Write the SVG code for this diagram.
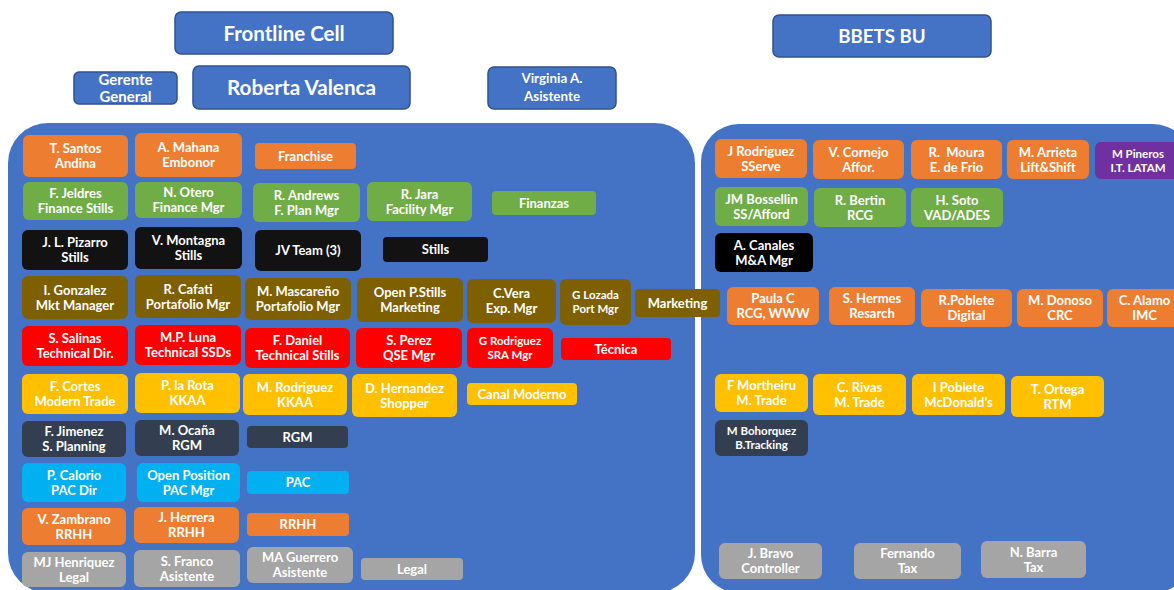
<svg xmlns="http://www.w3.org/2000/svg" width="1174" height="590" viewBox="0 0 1174 590">
  <style>
    text { font-family: Lato, "Open Sans", "Liberation Sans", sans-serif; font-weight: 700; fill: #ffffff; text-anchor: middle; }
    .n { font-size: 13px; }
    .s { font-size: 11.5px; }
    .head { fill: #4472C4; stroke: #2F528F; stroke-width: 1.5; }
    .panel { fill: #4472C4; }
    .orange { fill: #ED7D31; }
    .green { fill: #70AD47; }
    .black { fill: #121212; }
    .brown { fill: #7F6000; }
    .red { fill: #FF0000; }
    .yellow { fill: #FFC000; }
    .navy { fill: #333F50; }
    .cyan { fill: #00B0F0; }
    .gray { fill: #A5A5A5; }
    .purple { fill: #7030A0; }
  </style>

  <rect width="1174" height="590" fill="#ffffff"/>

  <!-- header boxes -->
  <g id="frontline-cell"><rect class="head" x="175" y="12" width="218" height="42" rx="6"/><text x="284" y="40.5" font-size="20.5">Frontline Cell</text></g>
  <g id="gerente-general"><rect class="head" x="74" y="72" width="103" height="32" rx="5"/><text x="125.5" y="84.5" font-size="15"><tspan x="125.5">Gerente</tspan><tspan x="125.5" y="102">General</tspan></text></g>
  <g id="roberta-valenca"><rect class="head" x="193" y="66" width="217" height="43" rx="6"/><text x="301.5" y="94.5" font-size="20.7">Roberta Valenca</text></g>
  <g id="virginia"><rect class="head" x="488" y="67" width="128" height="42" rx="6"/><text x="552" y="83" font-size="13.4"><tspan x="552">Virginia A.</tspan><tspan x="552" y="100.5">Asistente</tspan></text></g>
  <g id="bbets-bu"><rect class="head" x="773" y="15" width="218" height="42" rx="6"/><text x="882" y="43" font-size="18.7">BBETS BU</text></g>

  <!-- team panels -->
  <g id="frontline-panel"><rect class="panel" x="8" y="123" width="687" height="470" rx="40"/></g>
  <g id="bbets-panel"><rect class="panel" x="701" y="124" width="490" height="469" rx="38"/></g>

  <!-- Frontline Cell team -->
  <g id="santos"><rect class="orange" x="23" y="135" width="105" height="42" rx="6"/><text class="n" x="75.5" y="153"><tspan x="75.5">T. Santos</tspan><tspan x="75.5" y="168">Andina</tspan></text></g>
  <g id="mahana"><rect class="orange" x="135" y="133" width="107" height="44" rx="6"/><text class="n" x="188.5" y="152"><tspan x="188.5">A. Mahana</tspan><tspan x="188.5" y="167">Embonor</tspan></text></g>
  <g id="franchise"><rect class="orange" x="255" y="143" width="101" height="26" rx="4"/><text class="n" x="305.5" y="160.5">Franchise</text></g>

  <g id="jeldres"><rect class="green" x="23" y="182" width="105" height="38" rx="6"/><text class="n" x="75.5" y="198"><tspan x="75.5">F. Jeldres</tspan><tspan x="75.5" y="213">Finance Stills</tspan></text></g>
  <g id="otero"><rect class="green" x="135" y="182" width="107" height="36" rx="6"/><text class="n" x="188.5" y="197"><tspan x="188.5">N. Otero</tspan><tspan x="188.5" y="212">Finance Mgr</tspan></text></g>
  <g id="andrews"><rect class="green" x="253" y="183" width="107" height="39" rx="6"/><text class="n" x="306.5" y="199.5"><tspan x="306.5">R. Andrews</tspan><tspan x="306.5" y="214.5">F. Plan Mgr</tspan></text></g>
  <g id="jara"><rect class="green" x="367" y="182" width="105" height="39" rx="6"/><text class="n" x="419.5" y="198.5"><tspan x="419.5">R. Jara</tspan><tspan x="419.5" y="213.5">Facility Mgr</tspan></text></g>
  <g id="finanzas"><rect class="green" x="492" y="191" width="104" height="24" rx="4"/><text class="n" x="544" y="207.5">Finanzas</text></g>

  <g id="pizarro"><rect class="black" x="22" y="230" width="106" height="40" rx="6"/><text class="n" x="75" y="247"><tspan x="75">J. L. Pizarro</tspan><tspan x="75" y="262">Stills</tspan></text></g>
  <g id="montagna"><rect class="black" x="135" y="227" width="107" height="42" rx="6"/><text class="n" x="188.5" y="245"><tspan x="188.5">V. Montagna</tspan><tspan x="188.5" y="260">Stills</tspan></text></g>
  <g id="jv-team"><rect class="black" x="255" y="230" width="106" height="41" rx="6"/><text class="n" x="308" y="255">JV Team (3)</text></g>
  <g id="stills"><rect class="black" x="383" y="237" width="105" height="25" rx="4"/><text class="n" x="435.5" y="254">Stills</text></g>

  <g id="gonzalez"><rect class="brown" x="22" y="276" width="106" height="43" rx="6"/><text class="n" x="75" y="294.5"><tspan x="75">I. Gonzalez</tspan><tspan x="75" y="309.5">Mkt Manager</tspan></text></g>
  <g id="cafati"><rect class="brown" x="135" y="275" width="106" height="43" rx="6"/><text class="n" x="188" y="293.5"><tspan x="188">R. Cafati</tspan><tspan x="188" y="308.5">Portafolio Mgr</tspan></text></g>
  <g id="mascareno"><rect class="brown" x="245" y="278" width="106" height="42" rx="6"/><text class="n" x="298" y="296"><tspan x="298">M. Mascareño</tspan><tspan x="298" y="311">Portafolio Mgr</tspan></text></g>
  <g id="open-p-stills"><rect class="brown" x="357" y="278" width="106" height="44" rx="6"/><text class="n" x="410" y="297"><tspan x="410">Open P.Stills</tspan><tspan x="410" y="312">Marketing</tspan></text></g>
  <g id="vera"><rect class="brown" x="467" y="279" width="89" height="44" rx="6"/><text class="n" x="511.5" y="298"><tspan x="511.5">C.Vera</tspan><tspan x="511.5" y="313">Exp. Mgr</tspan></text></g>
  <g id="lozada"><rect class="brown" x="560" y="279" width="71" height="46" rx="6"/><text class="s" x="595.5" y="299"><tspan x="595.5">G Lozada</tspan><tspan x="595.5" y="313">Port Mgr</tspan></text></g>
  <g id="marketing"><rect class="brown" x="635" y="289" width="85" height="28" rx="4"/><text class="n" x="677.5" y="307.5">Marketing</text></g>

  <g id="salinas"><rect class="red" x="22" y="326" width="106" height="40" rx="6"/><text class="n" x="75" y="343"><tspan x="75">S. Salinas</tspan><tspan x="75" y="358">Technical Dir.</tspan></text></g>
  <g id="luna"><rect class="red" x="135" y="325" width="106" height="40" rx="6"/><text class="n" x="188" y="342"><tspan x="188">M.P. Luna</tspan><tspan x="188" y="357">Technical SSDs</tspan></text></g>
  <g id="daniel"><rect class="red" x="245" y="328" width="105" height="40" rx="6"/><text class="n" x="297.5" y="345"><tspan x="297.5">F. Daniel</tspan><tspan x="297.5" y="360">Technical Stills</tspan></text></g>
  <g id="perez"><rect class="red" x="356" y="328" width="106" height="40" rx="6"/><text class="n" x="409" y="345"><tspan x="409">S. Perez</tspan><tspan x="409" y="360">QSE Mgr</tspan></text></g>
  <g id="g-rodriguez"><rect class="red" x="467" y="328" width="86" height="40" rx="6"/><text class="s" x="510" y="345"><tspan x="510">G Rodriguez</tspan><tspan x="510" y="359">SRA Mgr</tspan></text></g>
  <g id="tecnica"><rect class="red" x="561" y="338" width="110" height="22" rx="4"/><text class="n" x="616" y="353.5">Técnica</text></g>

  <g id="cortes"><rect class="yellow" x="22" y="374" width="106" height="40" rx="6"/><text class="n" x="75" y="391"><tspan x="75">F. Cortes</tspan><tspan x="75" y="406">Modern Trade</tspan></text></g>
  <g id="la-rota"><rect class="yellow" x="135" y="373" width="105" height="40" rx="6"/><text class="n" x="187.5" y="390"><tspan x="187.5">P. la Rota</tspan><tspan x="187.5" y="405">KKAA</tspan></text></g>
  <g id="m-rodriguez"><rect class="yellow" x="243" y="374" width="104" height="41" rx="6"/><text class="n" x="295" y="391.5"><tspan x="295">M. Rodriguez</tspan><tspan x="295" y="406.5">KKAA</tspan></text></g>
  <g id="hernandez"><rect class="yellow" x="352" y="374" width="105" height="43" rx="6"/><text class="n" x="404.5" y="392.5"><tspan x="404.5">D. Hernandez</tspan><tspan x="404.5" y="407.5">Shopper</tspan></text></g>
  <g id="canal-moderno"><rect class="yellow" x="467" y="383" width="110" height="22" rx="4"/><text class="n" x="522" y="398.5">Canal Moderno</text></g>

  <g id="jimenez"><rect class="navy" x="22" y="421" width="104" height="36" rx="6"/><text class="n" x="74" y="436"><tspan x="74">F. Jimenez</tspan><tspan x="74" y="451">S. Planning</tspan></text></g>
  <g id="ocana"><rect class="navy" x="135" y="420" width="104" height="36" rx="6"/><text class="n" x="187" y="435"><tspan x="187">M. Ocaña</tspan><tspan x="187" y="450">RGM</tspan></text></g>
  <g id="rgm"><rect class="navy" x="247" y="426" width="101" height="22" rx="4"/><text class="n" x="297.5" y="441.5">RGM</text></g>

  <g id="calorio"><rect class="cyan" x="22" y="463" width="104" height="39" rx="6"/><text class="n" x="74" y="479.5"><tspan x="74">P. Calorio</tspan><tspan x="74" y="494.5">PAC Dir</tspan></text></g>
  <g id="open-position"><rect class="cyan" x="137" y="463" width="103" height="39" rx="6"/><text class="n" x="188.5" y="479.5"><tspan x="188.5">Open Position</tspan><tspan x="188.5" y="494.5">PAC Mgr</tspan></text></g>
  <g id="pac"><rect class="cyan" x="247" y="471" width="102" height="23" rx="4"/><text class="n" x="298" y="487">PAC</text></g>

  <g id="zambrano"><rect class="orange" x="22" y="508" width="104" height="37" rx="6"/><text class="n" x="74" y="523.5"><tspan x="74">V. Zambrano</tspan><tspan x="74" y="538.5">RRHH</tspan></text></g>
  <g id="herrera"><rect class="orange" x="134" y="507" width="105" height="36" rx="6"/><text class="n" x="186.5" y="522"><tspan x="186.5">J. Herrera</tspan><tspan x="186.5" y="537">RRHH</tspan></text></g>
  <g id="rrhh"><rect class="orange" x="247" y="513" width="102" height="23" rx="4"/><text class="n" x="298" y="529">RRHH</text></g>

  <g id="henriquez"><rect class="gray" x="22" y="552" width="104" height="35" rx="6"/><text class="n" x="74" y="566.5"><tspan x="74">MJ Henriquez</tspan><tspan x="74" y="581.5">Legal</tspan></text></g>
  <g id="franco"><rect class="gray" x="134" y="550" width="106" height="37" rx="6"/><text class="n" x="187" y="565.5"><tspan x="187">S. Franco</tspan><tspan x="187" y="580.5">Asistente</tspan></text></g>
  <g id="guerrero"><rect class="gray" x="247" y="547" width="106" height="36" rx="6"/><text class="n" x="300" y="562"><tspan x="300">MA Guerrero</tspan><tspan x="300" y="577">Asistente</tspan></text></g>
  <g id="legal"><rect class="gray" x="361" y="558" width="102" height="22" rx="4"/><text class="n" x="412" y="573.5">Legal</text></g>

  <!-- BBETS BU team -->
  <g id="j-rodriguez"><rect class="orange" x="715" y="139" width="92" height="39" rx="6"/><text class="n" x="761" y="155.5"><tspan x="761">J Rodriguez</tspan><tspan x="761" y="170.5">SServe</tspan></text></g>
  <g id="cornejo"><rect class="orange" x="813" y="140" width="91" height="39" rx="6"/><text class="n" x="858.5" y="156.5"><tspan x="858.5">V. Cornejo</tspan><tspan x="858.5" y="171.5">Affor.</tspan></text></g>
  <g id="moura"><rect class="orange" x="911" y="140" width="91" height="39" rx="6"/><text class="n" x="956.5" y="156.5" xml:space="preserve"><tspan x="956.5">R.  Moura</tspan><tspan x="956.5" y="171.5">E. de Frio</tspan></text></g>
  <g id="arrieta"><rect class="orange" x="1007" y="140" width="82" height="39" rx="6"/><text class="n" x="1048" y="156.5"><tspan x="1048">M. Arrieta</tspan><tspan x="1048" y="171.5">Lift&amp;Shift</tspan></text></g>
  <g id="pineros"><rect class="purple" x="1095" y="142" width="86" height="37" rx="6"/><text class="s" x="1138" y="157.5"><tspan x="1138">M Pineros</tspan><tspan x="1138" y="171.5">I.T. LATAM</tspan></text></g>

  <g id="bossellin"><rect class="green" x="715" y="187" width="93" height="39" rx="6"/><text class="n" x="761.5" y="203.5"><tspan x="761.5">JM Bossellin</tspan><tspan x="761.5" y="218.5">SS/Afford</tspan></text></g>
  <g id="bertin"><rect class="green" x="814" y="188" width="92" height="39" rx="6"/><text class="n" x="860" y="204.5"><tspan x="860">R. Bertin</tspan><tspan x="860" y="219.5">RCG</tspan></text></g>
  <g id="soto"><rect class="green" x="911" y="188" width="92" height="39" rx="6"/><text class="n" x="957" y="204.5"><tspan x="957">H. Soto</tspan><tspan x="957" y="219.5">VAD/ADES</tspan></text></g>

  <g id="canales"><rect fill="#000000" x="715" y="233" width="98" height="39" rx="6"/><text class="n" x="764" y="249.5"><tspan x="764">A. Canales</tspan><tspan x="764" y="264.5">M&amp;A Mgr</tspan></text></g>

  <g id="paula-c"><rect class="orange" x="727" y="287" width="92" height="38" rx="6"/><text class="n" x="773" y="303"><tspan x="773">Paula C</tspan><tspan x="773" y="318">RCG, WWW</tspan></text></g>
  <g id="hermes"><rect class="orange" x="829" y="287" width="86" height="38" rx="6"/><text class="n" x="872" y="303"><tspan x="872">S. Hermes</tspan><tspan x="872" y="318">Resarch</tspan></text></g>
  <g id="r-poblete"><rect class="orange" x="921" y="289" width="91" height="38" rx="6"/><text class="n" x="966.5" y="305"><tspan x="966.5">R.Poblete</tspan><tspan x="966.5" y="320">Digital</tspan></text></g>
  <g id="donoso"><rect class="orange" x="1017" y="289" width="86" height="38" rx="6"/><text class="n" x="1060" y="305"><tspan x="1060">M. Donoso</tspan><tspan x="1060" y="320">CRC</tspan></text></g>
  <g id="alamo"><rect class="orange" x="1107" y="289" width="75" height="38" rx="6"/><text class="n" x="1144.5" y="305"><tspan x="1144.5">C. Alamo</tspan><tspan x="1144.5" y="320">IMC</tspan></text></g>

  <g id="mortheiru"><rect class="yellow" x="715" y="374" width="93" height="38" rx="6"/><text class="n" x="761.5" y="390"><tspan x="761.5">F Mortheiru</tspan><tspan x="761.5" y="405">M. Trade</tspan></text></g>
  <g id="rivas"><rect class="yellow" x="813" y="374" width="93" height="41" rx="6"/><text class="n" x="859.5" y="391.5"><tspan x="859.5">C. Rivas</tspan><tspan x="859.5" y="406.5">M. Trade</tspan></text></g>
  <g id="i-poblete"><rect class="yellow" x="912" y="374" width="93" height="41" rx="6"/><text class="n" x="958.5" y="391.5"><tspan x="958.5">I Poblete</tspan><tspan x="958.5" y="406.5">McDonald’s</tspan></text></g>
  <g id="ortega"><rect class="yellow" x="1011" y="376" width="93" height="41" rx="6"/><text class="n" x="1057.5" y="393.5"><tspan x="1057.5">T. Ortega</tspan><tspan x="1057.5" y="408.5">RTM</tspan></text></g>

  <g id="bohorquez"><rect class="navy" x="715" y="420" width="93" height="36" rx="6"/><text class="s" x="761.5" y="435"><tspan x="761.5">M Bohorquez</tspan><tspan x="761.5" y="449">B.Tracking</tspan></text></g>

  <g id="bravo"><rect class="gray" x="719" y="543" width="103" height="36" rx="6"/><text class="n" x="770.5" y="558"><tspan x="770.5">J. Bravo</tspan><tspan x="770.5" y="573">Controller</tspan></text></g>
  <g id="fernando"><rect class="gray" x="854" y="543" width="107" height="36" rx="6"/><text class="n" x="907.5" y="558"><tspan x="907.5">Fernando</tspan><tspan x="907.5" y="573">Tax</tspan></text></g>
  <g id="barra"><rect class="gray" x="981" y="541" width="105" height="37" rx="6"/><text class="n" x="1033.5" y="556.5"><tspan x="1033.5">N. Barra</tspan><tspan x="1033.5" y="571.5">Tax</tspan></text></g>
</svg>
